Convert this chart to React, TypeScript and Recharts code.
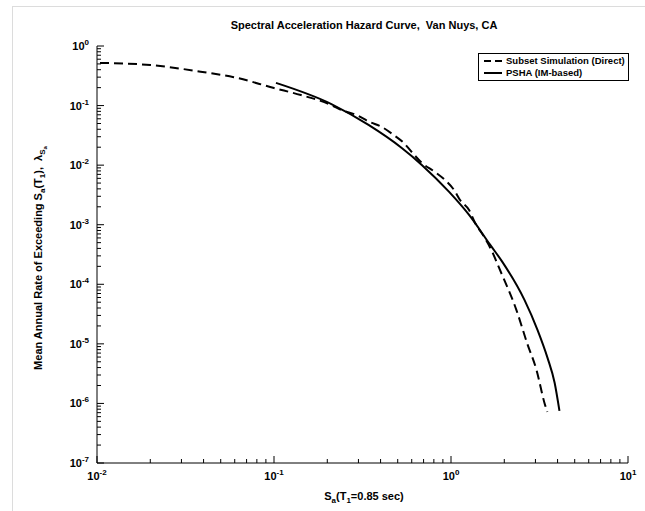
import { LineChart, Line, XAxis, YAxis } from 'recharts';

// Subset Simulation (Direct)
const subsetSa = [0.0104, 0.02, 0.0385, 0.0593, 0.1, 0.142, 0.211, 0.24, 0.292, 0.347, 0.406, 0.474, 0.541, 0.6, 0.684, 0.811, 0.924, 1.04, 1.125, 1.265, 1.368, 1.54, 1.71, 1.87, 2.34, 2.7, 3.04, 3.38, 3.5];
const subsetRate = [0.52, 0.48, 0.37, 0.3, 0.197, 0.15, 0.102, 0.0843, 0.0695, 0.0531, 0.0438, 0.0321, 0.0236, 0.0166, 0.0109, 0.00769, 0.00565, 0.00384, 0.0026, 0.00177, 0.00107, 0.000624, 0.00035, 0.000188, 0.0000372, 0.00001, 0.00000366, 0.000001, 0.00000072];

// PSHA (IM-based) - solid curve
const pshaSa = [0.1026, 0.211, 0.342, 0.527, 0.684, 0.976, 1.265, 1.666, 1.95, 2.6, 3.08, 3.51, 3.85, 4.1];
const pshaRate = [0.24, 0.106, 0.0473, 0.0194, 0.0101, 0.00355, 0.00146, 0.000458, 0.000238, 0.0000547, 0.0000172, 0.00000582, 0.00000222, 0.00000075];

const seriesNames = ['Subset Simulation (Direct)', 'PSHA (IM-based)'];

const xDecades = [-2, -1, 0, 1];
const yDecades = [-7, -6, -5, -4, -3, -2, -1, 0];
const minorSteps = [1, 2, 3, 4, 5, 6, 7, 8, 9];

const subsetData = subsetSa.map((sa, i) => ({ sa, rate: subsetRate[i] }));
const pshaData = pshaSa.map((sa, i) => ({ sa, rate: pshaRate[i] }));

// decade ticks plus the minor 2..9 ones in between
function logTicks(decades: number[]) {
  const out: number[] = [];
  decades.forEach((d, i) => {
    if (i === decades.length - 1) {
      out.push(Math.pow(10, d));
      return;
    }
    minorSteps.forEach(m => out.push(m * Math.pow(10, d)));
  });
  return out;
}

const xTicks = logTicks(xDecades);
const yTicks = logTicks(yDecades);

const FONT = '"Liberation Sans", Arial, sans-serif';

function exponentOf(v: number) {
  const e = Math.log10(v);
  const r = Math.round(e);
  return Math.abs(e - r) < 1e-6 ? r : null;
}

function YTick(props: any) {
  const { x, y, payload } = props;
  const exp = exponentOf(payload.value);
  const len = exp === null ? 4 : 7;
  return (
    <g>
      <line x1={x} x2={x + len} y1={y} y2={y} stroke="#000" strokeWidth={1} />
      {exp !== null && (
        <text x={x - 8} y={y + 4} textAnchor="end" fontFamily={FONT} fontWeight="bold" fontSize={11} fill="#000">
          10<tspan dy={-5} fontSize={8}>{exp}</tspan>
        </text>
      )}
    </g>
  );
}

function XTick(props: any) {
  const { x, y, payload } = props;
  const exp = exponentOf(payload.value);
  const len = exp === null ? 4 : 7;
  return (
    <g>
      <line x1={x} x2={x} y1={y} y2={y - len} stroke="#000" strokeWidth={1} />
      {exp !== null && (
        <text x={x} y={y + 17} textAnchor="middle" fontFamily={FONT} fontWeight="bold" fontSize={11} fill="#000">
          10<tspan dy={-5} fontSize={8}>{exp}</tspan>
        </text>
      )}
    </g>
  );
}

export default function App() {
  return (
    <div style={{ position: 'absolute', left: 0, top: 0, width: 645, height: 511, background: '#fff', overflow: 'hidden' }}>
      <div style={{ position: 'absolute', left: 12, top: 6, width: 700, height: 600, borderLeft: '1px solid #dcdcdc', borderTop: '1px solid #dcdcdc' }} />
      <div style={{ position: 'absolute', left: 0, top: 0 }}>
        <LineChart width={645} height={511} margin={{ top: 46, right: 17, bottom: 0, left: 0 }}>
          <XAxis
            dataKey="sa"
            type="number"
            scale="log"
            domain={[0.01, 10]}
            ticks={xTicks}
            allowDataOverflow
            height={48}
            tickSize={0}
            tickMargin={0}
            interval={0}
            tick={<XTick />}
            stroke="#000"
          />
          <YAxis
            dataKey="rate"
            type="number"
            scale="log"
            domain={[1e-7, 1]}
            ticks={yTicks}
            allowDataOverflow
            width={97}
            tickSize={0}
            tickMargin={0}
            interval={0}
            tick={<YTick />}
            stroke="#000"
          />
          <Line data={subsetData} dataKey="rate" name={seriesNames[0]} type="monotone" stroke="#000" strokeWidth={2} strokeDasharray="9 5" dot={false} isAnimationActive={false} />
          <Line data={pshaData} dataKey="rate" name={seriesNames[1]} type="monotone" stroke="#000" strokeWidth={2} dot={false} isAnimationActive={false} />
          <text x={364} y={29} textAnchor="middle" fontFamily={FONT} fontWeight="bold" fontSize={11} style={{ whiteSpace: 'pre' }}>
            Spectral Acceleration Hazard Curve,  Van Nuys, CA
          </text>
          <text x={364} y={500} textAnchor="middle" fontFamily={FONT} fontWeight="bold" fontSize={11}>
            S<tspan dy={3} fontSize={8}>a</tspan><tspan dy={-3}>(T</tspan><tspan dy={3} fontSize={8}>1</tspan><tspan dy={-3}>=0.85 sec)</tspan>
          </text>
          <text x={0} y={0} transform="translate(42,258) rotate(-90)" textAnchor="middle" fontFamily={FONT} fontWeight="bold" fontSize={11} style={{ whiteSpace: 'pre' }}>
            Mean Annual Rate of Exceeding S<tspan dy={3} fontSize={8}>a</tspan><tspan dy={-3}>(T</tspan><tspan dy={3} fontSize={8}>1</tspan><tspan dy={-3}>),  λ</tspan><tspan dy={3} fontSize={8}>S</tspan><tspan dy={2} fontSize={6}>a</tspan>
          </text>
        </LineChart>
      </div>
      <div style={{ position: 'absolute', left: 478, top: 53, width: 145, height: 25, border: '1px solid #000', background: '#fff', fontFamily: FONT, fontWeight: 'bold', fontSize: 9.5, lineHeight: '12px', padding: '1px 0 0 4px', boxSizing: 'content-box', whiteSpace: 'nowrap' }}>
        {seriesNames.map((n, i) => (
          <div key={n} style={{ display: 'flex', alignItems: 'center' }}>
            <svg width={20} height={12} style={{ flexShrink: 0 }}>
              <line x1={1} x2={19} y1={6} y2={6} stroke="#000" strokeWidth={2} strokeDasharray={i === 0 ? '7 4' : undefined} />
            </svg>
            <span style={{ marginLeft: 3 }}>{n}</span>
          </div>
        ))}
      </div>
    </div>
  );
}
